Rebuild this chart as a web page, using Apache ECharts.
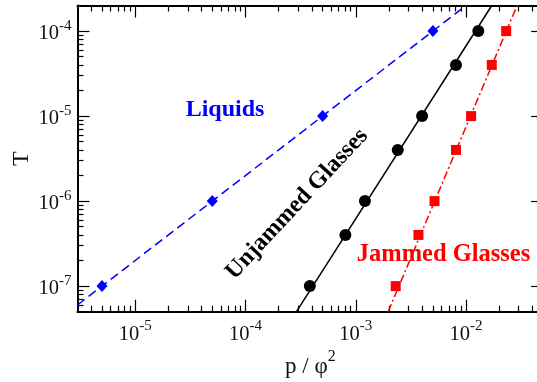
<!DOCTYPE html>
<html>
<head>
<meta charset="utf-8">
<script src="https://cdn.jsdelivr.net/npm/echarts@6/dist/echarts.min.js"></script>
<style>html,body{margin:0;padding:0;background:#fff}#c{width:537px;height:382px}</style>
</head>
<body>
<div id="c"></div>
<script>
// ---- data (raw values) ----
const liquidsP = [5e-6, 5e-5, 5e-4, 5e-3];
const liquidsT = [1e-7, 1e-6, 1e-5, 1e-4];
const unjammedP = [3.83e-4, 8.05e-4, 1.21e-3, 2.4e-3, 3.99e-3, 8.1e-3, 1.29e-2];
const unjammedT = [1e-7, 4e-7, 1e-6, 4e-6, 1e-5, 4e-5, 1e-4];
const jammedP = [2.3e-3, 3.7e-3, 5.17e-3, 8.1e-3, 1.11e-2, 1.71e-2, 2.31e-2];
const jammedT = [1e-7, 4e-7, 1e-6, 4e-6, 1e-5, 4e-5, 1e-4];
// fit lines (end points)
const liquidsFitP = [3e-6, 1e-2];
const liquidsFitT = [6e-8, 2e-4];
const unjammedFitP = [2.9e-4, 1.71e-2];
const unjammedFitT = [5e-8, 2e-4];
const jammedFitP = [1.965e-3, 2.9e-2];
const jammedFitT = [5e-8, 2e-4];
// axis ranges and ticks
const xRange = [3e-6, 5e-2];
const yRange = [5e-8, 2e-4];
const xMajor = [1e-5, 1e-4, 1e-3, 1e-2];
const yMajor = [1e-7, 1e-6, 1e-5, 1e-4];

const L = Math.log10;
function pairs(px, py) { return px.map((p, i) => [L(p), L(py[i])]); }
function minors(range) {
  const out = [];
  const lo = Math.floor(L(range[0])), hi = Math.ceil(L(range[1]));
  for (let e = lo; e <= hi; e++) for (let k = 2; k <= 9; k++) {
    const v = k * Math.pow(10, e);
    if (v > range[0] && v < range[1]) out.push(L(v));
  }
  return out;
}
const FONT = 'Liberation Serif';
const labelRich = {
  b: { fontSize: 20.5, fontFamily: FONT, color: '#111', padding: [5, 0, 0, 0], verticalAlign: 'bottom' },
  s: { fontSize: 15, fontFamily: FONT, color: '#111', verticalAlign: 'top' }
};
function fmt(v) { return '{b|10}{s|' + Math.round(v) + '}'; }
const lineStyle = { color: '#000', width: 2 };

function xAx(pos, major, showLabel, withLine) {
  return {
    type: 'value', position: pos, min: L(xRange[0]), max: L(xRange[1]),
    splitLine: { show: false },
    axisLine: { show: withLine, onZero: false, lineStyle: lineStyle },
    axisTick: { show: true, inside: true, length: major ? 12 : 6, lineStyle: { color: '#000', width: 1.2 },
      customValues: major ? xMajor.map(L) : minors(xRange) },
    axisLabel: showLabel ? { show: true, margin: 7, customValues: xMajor.map(L), formatter: fmt, rich: labelRich } : { show: false },
    name: showLabel ? '{a|p / φ}{s|2}' : '',
    nameLocation: 'middle', nameGap: 37, nameMoveOverlap: false,
    nameTextStyle: { rich: { a: { fontSize: 23, fontFamily: FONT, color: '#111', padding: [7, 0, 0, 0], verticalAlign: 'bottom' },
      s: { fontSize: 16, fontFamily: FONT, color: '#111', verticalAlign: 'top' } } }
  };
}
function yAx(pos, major, showLabel, withLine) {
  return {
    type: 'value', position: pos, min: L(yRange[0]), max: L(yRange[1]),
    splitLine: { show: false },
    axisLine: { show: withLine, onZero: false, lineStyle: lineStyle },
    axisTick: { show: true, inside: true, length: major ? 12 : 6, lineStyle: { color: '#000', width: 1.2 },
      customValues: major ? yMajor.map(L) : minors(yRange) },
    axisLabel: showLabel ? { show: true, margin: 6, customValues: yMajor.map(L), formatter: fmt, rich: labelRich } : { show: false },
    name: showLabel ? 'T' : '',
    nameLocation: 'middle', nameGap: 44, nameRotate: 90, nameMoveOverlap: false,
    nameTextStyle: { fontSize: 24, fontFamily: FONT, color: '#111' }
  };
}

const chart = echarts.init(document.getElementById('c'), null, { renderer: 'canvas' });
chart.setOption({
  backgroundColor: '#fff',
  animation: false,
  grid: { left: 77.5, right: -6.2, top: 5.5, bottom: 70.3, containLabel: false, outerBoundsMode: 'none' },
  xAxis: [xAx('bottom', true, true, true), xAx('bottom', false, false, false), xAx('top', true, false, true), xAx('top', false, false, false)],
  yAxis: [yAx('left', true, true, true), yAx('left', false, false, false), yAx('right', true, false, true), yAx('right', false, false, false)],
  series: [
    { type: 'line', data: pairs(liquidsFitP, liquidsFitT), showSymbol: false, symbol: 'none',
      lineStyle: { color: '#0000ff', width: 1.5, type: [9, 5] }, z: 2 },
    { type: 'line', data: pairs(unjammedFitP, unjammedFitT), showSymbol: false, symbol: 'none',
      lineStyle: { color: '#000', width: 1.5 }, z: 2 },
    { type: 'line', data: pairs(jammedFitP, jammedFitT), showSymbol: false, symbol: 'none',
      lineStyle: { color: '#ff0000', width: 1.5, type: [8, 3, 2, 3] }, z: 2 },
    { type: 'scatter', data: pairs(liquidsP, liquidsT), symbol: 'diamond', symbolSize: [11, 12],
      itemStyle: { color: '#0000ff', opacity: 1 }, z: 3 },
    { type: 'scatter', data: pairs(unjammedP, unjammedT), symbol: 'circle', symbolSize: 12,
      itemStyle: { color: '#000', opacity: 1 }, z: 3 },
    { type: 'scatter', data: pairs(jammedP, jammedT), symbol: 'rect', symbolSize: 10,
      itemStyle: { color: '#ff0000', opacity: 1 }, z: 3 }
  ],
  graphic: [
    { type: 'text', x: 225, y: 110, style: { text: 'Liquids', fill: '#0000ff', font: 'bold 24px "Liberation Serif"', align: 'center', verticalAlign: 'middle' } },
    { type: 'text', x: 297, y: 204, rotation: 47 * Math.PI / 180, style: { text: 'Unjammed Glasses', fill: '#000', font: 'bold 24px "Liberation Serif"', align: 'center', verticalAlign: 'middle' } },
    { type: 'text', x: 443.5, y: 255, style: { text: 'Jammed Glasses', fill: '#ff0000', font: 'bold 24.5px "Liberation Serif"', align: 'center', verticalAlign: 'middle' } }
  ]
});
</script>
</body>
</html>
